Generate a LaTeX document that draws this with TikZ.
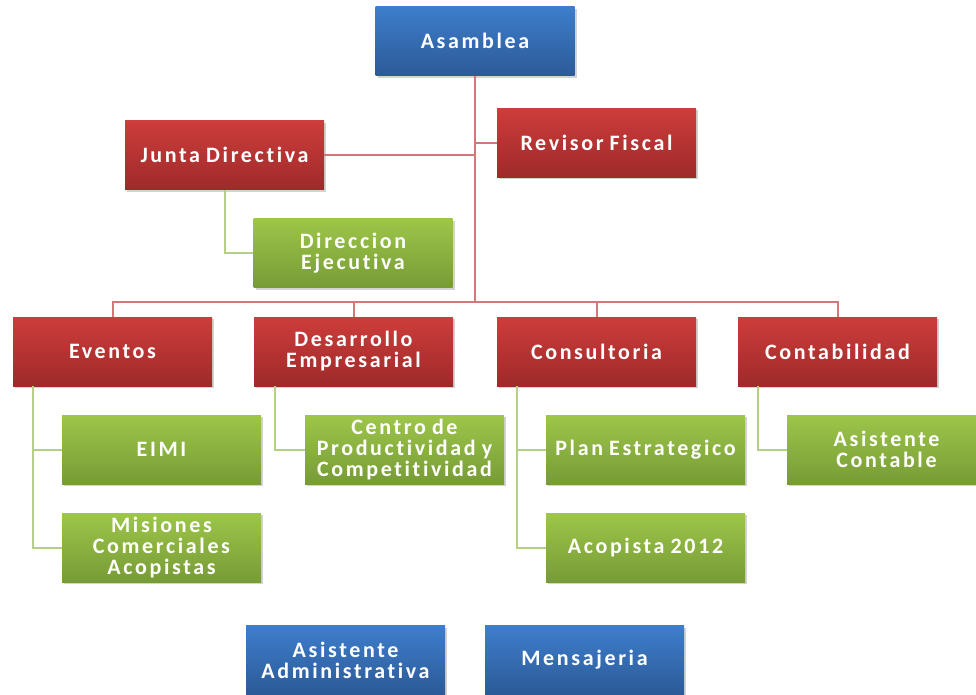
\documentclass[tikz,border=0pt]{standalone}
\usepackage{fontspec}
\newfontfamily\boxfont{Carlito}[LetterSpace=12, WordSpace=0.8, Ligatures=NoCommon]
\usetikzlibrary{shadows}

\definecolor{bluetop}{HTML}{3E7ECC}
\definecolor{bluebot}{HTML}{2C5A97}
\definecolor{redtop}{HTML}{CD3D3B}
\definecolor{redbot}{HTML}{9E2A2A}
\definecolor{greentop}{HTML}{9DC64A}
\definecolor{greenbot}{HTML}{779B36}
\definecolor{redline}{HTML}{D2777A}
\definecolor{greenline}{HTML}{B5D083}

\begin{document}
\begin{tikzpicture}
    [x=1pt, y=-1pt,
    box/.style={minimum width=199pt, minimum height=69pt, inner sep=2pt,
        align=center, text=white,
        font=\boxfont\bfseries\fontsize{22}{21}\selectfont,
        drop shadow={shadow xshift=2pt, shadow yshift=-2pt, opacity=0.35}},
    head box/.style={box, top color=bluetop, bottom color=bluebot},
    dept box/.style={box, top color=redtop, bottom color=redbot},
    sub box/.style={box, top color=greentop, bottom color=greenbot},
    red link/.style={draw=redline, line width=2pt},
    green link/.style={draw=greenline, line width=2pt}]

    \useasboundingbox (0, 0) rectangle (976, 694);

    % drawing the top of the chart
    \node[head box] (asamblea) at (475, 41) {Asamblea};
    \node[dept box] (junta) at (224.5, 155) {Junta Directiva};
    \node[dept box] (revisor) at (596.5, 142.5) {Revisor Fiscal};
    \node[sub box] (direccion) at (353, 253) {Direccion\\Ejecutiva};

    % drawing the departments
    \node[dept box] (eventos) at (112.5, 351.5) {Eventos};
    \node[dept box] (desarrollo) at (353.5, 351.5) {Desarrollo\\Empresarial};
    \node[dept box] (consultoria) at (596.5, 351.5) {Consultoria};
    \node[dept box] (contabilidad) at (837.5, 351.5) {Contabilidad};

    % drawing the units under each department
    \node[sub box] (eimi) at (161.5, 449.5) {EIMI};
    \node[sub box] (misiones) at (161.5, 547.5) {Misiones\\Comerciales\\Acopistas};
    \node[sub box] (centro) at (404.5, 449.5) {Centro de\\Productividad y\\Competitividad};
    \node[sub box] (plan) at (645.5, 449.5) {Plan Estrategico};
    \node[sub box] (acopista) at (645.5, 547.5) {Acopista 2012};
    \node[sub box] (asistcont) at (886.5, 449.5) {Asistente\\Contable};

    % drawing the staff boxes
    \node[head box] (asistadm) at (345.5, 660) {Asistente\\Administrativa};
    \node[head box] (mensajeria) at (584.5, 660) {Mensajeria};

    % drawing the red links
    \coordinate (bus) at (475, 302);
    \draw[red link] (asamblea.south) -- (bus);
    \draw[red link] (junta.east) -- (junta.east -| asamblea.south);
    \draw[red link] (revisor.west) -- (revisor.west -| asamblea.south);
    \draw[red link] (eventos.north) |- (bus);
    \draw[red link] (contabilidad.north) |- (bus);
    \draw[red link] (desarrollo.north) -- (desarrollo.north |- bus);
    \draw[red link] (consultoria.north) -- (consultoria.north |- bus);

    % drawing the green links
    \draw[green link] (junta.south) |- (direccion.west);
    \draw[green link] ([xshift=20pt]eventos.south west) |- (eimi.west);
    \draw[green link] ([xshift=20pt]eventos.south west) |- (misiones.west);
    \draw[green link] ([xshift=21pt]desarrollo.south west) |- (centro.west);
    \draw[green link] ([xshift=20pt]consultoria.south west) |- (plan.west);
    \draw[green link] ([xshift=20pt]consultoria.south west) |- (acopista.west);
    \draw[green link] ([xshift=20pt]contabilidad.south west) |- (asistcont.west);

\end{tikzpicture}
\end{document}
